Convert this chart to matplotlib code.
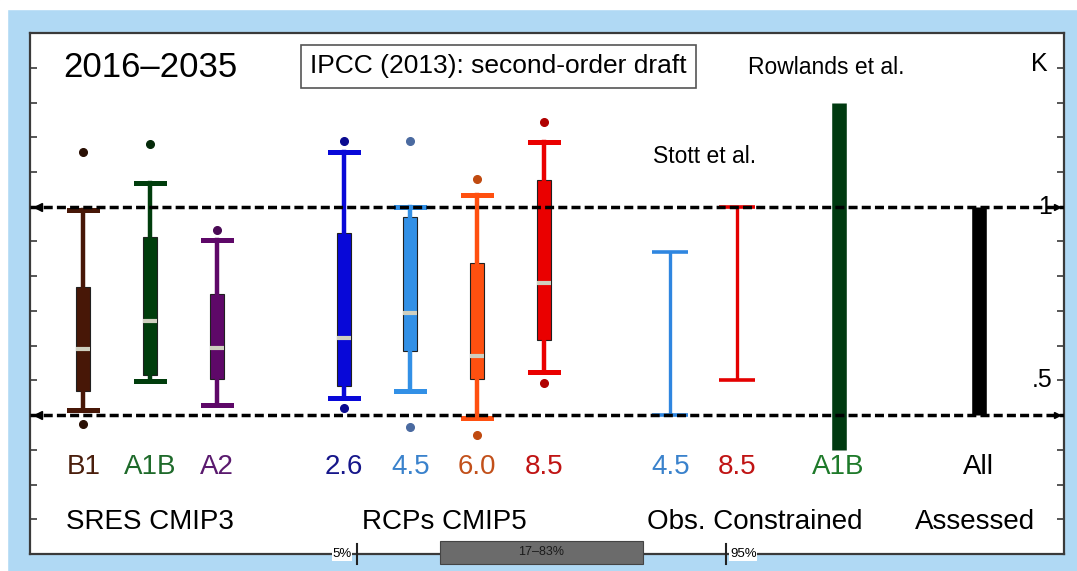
import matplotlib
matplotlib.use("Agg")
import matplotlib.pyplot as plt
from matplotlib.patches import Rectangle

plt.rcParams['font.family'] = ['Liberation Sans', 'DejaVu Sans']

# box plots (model ensembles): whisker low, q1, median, q3, whisker high, outliers
box_names = ['B1', 'A1B', 'A2', '2.6', '4.5', '6.0', '8.5']
box_pos = [1, 2, 3, 4.9, 5.9, 6.9, 7.9]
whis_lo = [0.415, 0.497, 0.43, 0.45, 0.47, 0.392, 0.523]
q1 = [0.47, 0.515, 0.503, 0.483, 0.584, 0.503, 0.616]
med = [0.59, 0.67, 0.593, 0.622, 0.695, 0.57, 0.78]
q3 = [0.77, 0.913, 0.75, 0.924, 0.97, 0.837, 1.078]
whis_hi = [0.99, 1.067, 0.904, 1.157, 1.0, 1.035, 1.186]
fliers = [[1.157, 0.375], [1.18], [0.933], [1.19, 0.42], [1.19, 0.366], [1.08, 0.343], [1.244, 0.491]]
box_colors = ['#471707', '#003d0c', '#5e0868', '#0808d8', '#3290e6', '#ff5010', '#ea0000']
flier_colors = ['#2a1005', '#052a0a', '#4a0a55', '#0a0a90', '#4a6aa0', '#c04a10', '#b00000']
label_colors = ['#4a1e0c', '#1e6a2a', '#5a1a6e', '#16168a', '#3a82cc', '#c2501a', '#c01414']

# observationally constrained ranges
obs_names = ['4.5', '8.5']
obs_pos = [9.8, 10.8]
obs_lo = [0.4, 0.5]
obs_hi = [0.87, 1.0]
obs_colors = ['#2f86e0', '#e40000']
obs_label_colors = ['#3a82cc', '#c01414']

# Rowlands et al. A1B and all assessed
bar_names = ['A1B', 'All']
bar_pos = [12.32, 14.42]
bar_lo = [0.30, 0.4]
bar_hi = [1.30, 1.0]
bar_colors = ['#003a10', '#000000']
bar_label_colors = ['#1e7a2a', '#000000']

likely_range = [0.4, 1.0]

fig = plt.figure(figsize=(10.77, 5.71), dpi=100)
fig.patch.set_facecolor('#b0d9f4')
fig.patches.append(Rectangle((0, 0.984), 1, 0.016, transform=fig.transFigure, color='white', zorder=0))
fig.patches.append(Rectangle((0, 0), 0.0065, 1, transform=fig.transFigure, color='white', zorder=0))

ax = fig.add_axes([0.0279, 0.0298, 0.9601, 0.9122])
ax.set_facecolor('white')
for s in ax.spines.values():
    s.set_color('#3a3a3a')
    s.set_linewidth(1.6)

for i in range(len(box_names)):
    st = dict(med=med[i], q1=q1[i], q3=q3[i], whislo=whis_lo[i], whishi=whis_hi[i], fliers=fliers[i])
    c = box_colors[i]
    ax.bxp([st], positions=[box_pos[i]], widths=0.21, capwidths=0.42, patch_artist=True,
           manage_ticks=False,
           boxprops=dict(facecolor=c, edgecolor='#202020', linewidth=0.8),
           whiskerprops=dict(color=c, linewidth=3.2),
           capprops=dict(color=c, linewidth=3.6),
           medianprops=dict(color='#cfcfbf', linewidth=3),
           flierprops=dict(marker='o', markersize=5.5, markerfacecolor=flier_colors[i],
                           markeredgecolor=flier_colors[i]), zorder=3)
    ax.text(box_pos[i], 0.25, box_names[i], color=label_colors[i], fontsize=20, ha='center', va='center')

for i in range(len(obs_names)):
    mid = (obs_lo[i] + obs_hi[i]) / 2
    ax.errorbar(obs_pos[i], mid, yerr=(obs_hi[i] - obs_lo[i]) / 2, fmt='none', ecolor=obs_colors[i],
                elinewidth=2.4, capsize=13, capthick=2.6, zorder=3)
    ax.text(obs_pos[i], 0.25, obs_names[i], color=obs_label_colors[i], fontsize=20, ha='center', va='center')

for i in range(len(bar_names)):
    ax.vlines(bar_pos[i], bar_lo[i], bar_hi[i], color=bar_colors[i], linewidth=10.5, zorder=3)
    ax.text(bar_pos[i], 0.25, bar_names[i], color=bar_label_colors[i], fontsize=20, ha='center', va='center')

ax.set_xlim(0.2, 15.7)
ax.set_ylim(0, 1.5)
ax.set_yticks([i / 10 for i in range(16)])
ax.set_xticks([])
ax.tick_params(axis='y', direction='in', left=True, right=True, labelleft=False,
               length=5, width=1.2, color='#3a3a3a')

# likely range dashed lines
for y in likely_range:
    ax.axhline(y, color='black', linewidth=2.5, dashes=(2.6, 1.2), zorder=4)
    ax.plot([0.32], [y], marker='<', color='black', markersize=6, zorder=5, clip_on=False)
    ax.plot([15.6], [y], marker='>', color='black', markersize=5, zorder=5, clip_on=False)

ax.text(15.52, 1.0, '1', fontsize=18, ha='right', va='center', zorder=6)
ax.text(15.52, 0.5, '.5', fontsize=18, ha='right', va='center')
ax.text(15.33, 1.41, 'K', fontsize=18, ha='center', va='center')

# group labels
ax.text(2.0, 0.093, 'SRES CMIP3', fontsize=20, ha='center', va='center')
ax.text(6.41, 0.093, 'RCPs CMIP5', fontsize=20, ha='center', va='center')
ax.text(11.07, 0.093, 'Obs. Constrained', fontsize=20, ha='center', va='center')
ax.text(14.36, 0.093, 'Assessed', fontsize=20, ha='center', va='center')

ax.text(0.70, 1.40, '2016\u20132035', fontsize=25, ha='left', va='center')
ax.text(7.22, 1.404, 'IPCC (2013): second-order draft', fontsize=19, ha='center', va='center',
        bbox=dict(boxstyle='square,pad=0.35', facecolor='white', edgecolor='#555555', linewidth=1.2))
ax.text(12.14, 1.40, 'Rowlands et al.', fontsize=16.5, ha='center', va='center')
ax.text(10.31, 1.145, 'Stott et al.', fontsize=16.5, ha='center', va='center')

# percentile key along the bottom edge
ax.add_patch(Rectangle((0.396, -0.019), 0.197, 0.044, transform=ax.transAxes, facecolor='#6b6b6b',
                       edgecolor='#444444', linewidth=0.8, clip_on=False, zorder=6))
ax.text(0.4945, 0.003, '17\u201383%', transform=ax.transAxes, fontsize=9, ha='center', va='center',
        color='#1a1a1a', zorder=7)
ax.plot([0.242, 0.72], [0.0, 0.0], transform=ax.transAxes, color='#3a3a3a', linewidth=1.2,
        clip_on=False, zorder=5)
for xt in [0.316, 0.673]:
    ax.plot([xt, xt], [-0.019, 0.02], transform=ax.transAxes, color='#222222', linewidth=1.5,
            clip_on=False, zorder=6)
ax.text(0.311, 0.0, '5%', transform=ax.transAxes, fontsize=9.5, ha='right', va='center', zorder=7,
        bbox=dict(boxstyle='square,pad=0.05', facecolor='white', edgecolor='none'))
ax.text(0.677, 0.0, '95%', transform=ax.transAxes, fontsize=9.5, ha='left', va='center', zorder=7,
        bbox=dict(boxstyle='square,pad=0.05', facecolor='white', edgecolor='none'))

fig.savefig('out.png', dpi=100, facecolor=fig.get_facecolor())
